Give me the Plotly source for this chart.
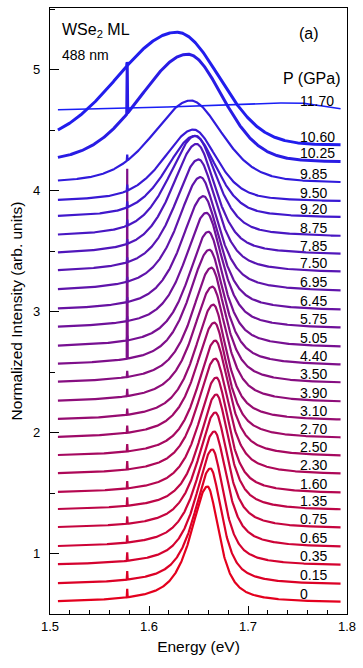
import numpy as np
import plotly.graph_objects as go

# ---- data ----
pressure_labels = ["0", "0.15", "0.35", "0.65", "0.75", "1.35", "1.60", "2.30", "2.50",
                   "2.70", "3.10", "3.90", "3.50", "4.40", "5.05", "5.75", "6.45", "6.95",
                   "7.50", "7.85", "8.75", "9.20", "9.50", "9.85", "10.25", "10.60", "11.70"]
baseline = [0.594, 0.743, 0.900, 1.049, 1.206, 1.355, 1.495, 1.651, 1.800,
            1.949, 2.097, 2.246, 2.403, 2.551, 2.700, 2.857, 3.005, 3.162,
            3.318, 3.466, 3.614, 3.772, 3.905, 4.055, 4.228, 4.380, 4.665]
peak_energy = [1.659, 1.662, 1.664, 1.666, 1.667, 1.668, 1.668, 1.667, 1.667,
               1.666, 1.665, 1.664, 1.663, 1.661, 1.660, 1.658, 1.655, 1.652,
               1.650, 1.648, 1.647, 1.646, 1.645, 1.642, 1.639, 1.628, 1.748]
peak_height = [0.96, 0.96, 0.96, 0.96, 0.96, 0.96, 0.96, 0.96, 0.96,
               0.96, 0.96, 0.96, 0.96, 0.96, 0.96, 0.96, 0.95, 0.95,
               0.94, 0.92, 0.84, 0.68, 0.60, 0.69, 0.90, 0.93, 0.06]
width_low = [0.020, 0.020, 0.020, 0.021, 0.021, 0.021, 0.022, 0.022, 0.022,
             0.023, 0.023, 0.024, 0.024, 0.025, 0.025, 0.026, 0.027, 0.028,
             0.029, 0.030, 0.032, 0.034, 0.036, 0.045, 0.057, 0.070, 0.120]
width_high = [0.014, 0.014, 0.014, 0.015, 0.015, 0.015, 0.015, 0.016, 0.016,
              0.016, 0.016, 0.017, 0.017, 0.018, 0.018, 0.019, 0.020, 0.021,
              0.022, 0.023, 0.025, 0.027, 0.028, 0.038, 0.042, 0.050, 0.030]
lorentz_frac = [0.8, 0.8, 0.8, 0.8, 0.8, 0.8, 0.8, 0.8, 0.8,
                0.8, 0.8, 0.8, 0.8, 0.75, 0.75, 0.7, 0.7, 0.7,
                0.65, 0.6, 0.55, 0.5, 0.5, 0.4, 0.2, 0.0, 0.0]
spike_height = [0.07, 0.07, 0.07, 0.06, 0.06, 0.07, 0.06, 0.07, 0.06,
                0.06, 0.05, 0.06, 0.05, 1.57, 0.04, 0.04, 0.04, 0.04,
                0.04, 0.04, 0.05, 0.05, 0.05, 0.05, 0.42, 0.03, 0.0]
spike_energy = 1.578
energy = np.arange(1.508, 1.7935, 0.0005)

n = len(pressure_labels)
c_start = np.array([228, 0, 30])
c_end = np.array([25, 30, 245])

fig = go.Figure()
spike_idx = int(np.argmin(np.abs(energy - spike_energy)))
for i in range(n):
    d = energy - peak_energy[i]
    w = np.where(d < 0, width_low[i], width_high[i])
    u = (d / w) ** 2
    eta = lorentz_frac[i]
    prof = eta / (1 + u) + (1 - eta) * np.exp(-np.log(2) * u)
    y = baseline[i] + peak_height[i] * prof
    y[spike_idx] += spike_height[i]
    t = i / (n - 1)
    col = c_start * (1 - t) + c_end * t
    color = "rgb(%d,%d,%d)" % tuple(col.round().astype(int))
    lw = 1.6 if i == n - 1 else (3.0 if i in (24, 25) else 2.2)
    fig.add_trace(go.Scatter(x=energy, y=y, mode="lines",
                             line=dict(color=color, width=lw),
                             showlegend=False, hoverinfo="skip"))
    fig.add_annotation(x=1.751, y=y[-1] + 0.067, text=pressure_labels[i],
                       xanchor="left", yanchor="middle", showarrow=False,
                       font=dict(size=14, color="black"))

font_fam = "Liberation Sans, Arial, sans-serif"
fig.add_annotation(x=1.510, y=5.32, text="WSe<sub>2</sub> ML", xanchor="left",
                   yanchor="middle", showarrow=False, font=dict(size=16, color="black"))
fig.add_annotation(x=1.510, y=5.125, text="488 nm", xanchor="left",
                   yanchor="middle", showarrow=False, font=dict(size=14, color="black"))
fig.add_annotation(x=1.762, y=5.30, text="(a)", xanchor="center",
                   yanchor="middle", showarrow=False, font=dict(size=16, color="black"))
fig.add_annotation(x=1.796, y=4.93, text="P (GPa)", xanchor="right",
                   yanchor="middle", showarrow=False, font=dict(size=16, color="black"))

fig.update_layout(
    width=363, height=668,
    margin=dict(l=50, r=10, t=7, b=54),
    paper_bgcolor="white", plot_bgcolor="white",
    font=dict(family=font_fam, color="black"),
    hovermode=False,
)
fig.update_xaxes(range=[1.5, 1.8], tickvals=[1.5, 1.6, 1.7, 1.8],
                 ticktext=["1.5", "1.6", "1.7", "1.8"],
                 ticks="inside", ticklen=8, tickwidth=1, tickcolor="black",
                 showline=True, linecolor="black", linewidth=1.3, mirror=True,
                 showgrid=False, zeroline=False,
                 tickfont=dict(size=13),
                 minor=dict(dtick=0.02, tick0=1.5, ticks="inside", ticklen=4,
                            tickcolor="black", tickwidth=1, showgrid=False),
                 title=dict(text="Energy (eV)", font=dict(size=15.5), standoff=8))
fig.update_yaxes(range=[0.5, 5.51], tickvals=[1, 2, 3, 4, 5],
                 ticks="inside", ticklen=9, tickwidth=1, tickcolor="black",
                 showline=True, linecolor="black", linewidth=1.3, mirror=True,
                 showgrid=False, zeroline=False,
                 tickfont=dict(size=13), ticklabelstandoff=6,
                 minor=dict(dtick=0.5, tick0=0.5, ticks="inside", ticklen=5,
                            tickcolor="black", tickwidth=1, showgrid=False),
                 title=dict(text="Normalized Intensity (arb. units)",
                            font=dict(size=15.5), standoff=6))

fig.write_html("out.html", config={"displayModeBar": False},
               post_script="document.body.style.margin='0px';")
